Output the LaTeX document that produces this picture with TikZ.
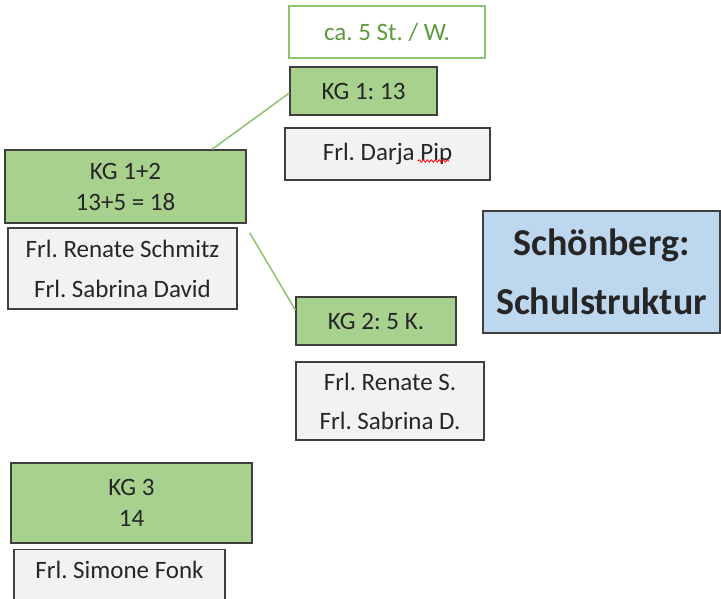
\documentclass[tikz,border=0pt]{standalone}
\usepackage{fontspec}
\setmainfont{Carlito}
\usetikzlibrary{decorations.pathmorphing}
\frenchspacing

\definecolor{kggreen}{HTML}{A9D18E}
\definecolor{kgline}{HTML}{8DC26F}
\definecolor{kgtext}{HTML}{5E9A3D}
\definecolor{lehrgray}{HTML}{F2F2F2}
\definecolor{titleblue}{HTML}{BDD7EE}
\definecolor{boxedge}{HTML}{3F3F3F}

\tikzset{
    kgbox/.style={draw=boxedge, line width=1.3pt, fill=kggreen, align=center, inner sep=0pt},
    lehrbox/.style={draw=boxedge, line width=1.3pt, fill=lehrgray, align=center, inner sep=0pt},
    notebox/.style={draw=kgline, line width=1.3pt, fill=white, text=kgtext, inner sep=0pt},
    titlebox/.style={draw=boxedge, line width=1.3pt, fill=titleblue, align=center, inner sep=0pt,
        font=\fontsize{38}{46}\selectfont\bfseries},
    link/.style={draw=kgline, line width=1.5pt}
}

\begin{document}
\begin{tikzpicture}[x=1pt, y=-1pt, font=\fontsize{25}{31}\selectfont, text=black!85]
    \useasboundingbox (0,0) rectangle (721,598);

    % top: hours and KG 1
    \draw (387,32) node[notebox, minimum width=196pt, minimum height=52pt] (hours) {ca. 5 St. / W.};
    \draw (363.5,91) node[kgbox, minimum width=147pt, minimum height=48pt] (kg1) {KG 1: 13};
    \draw (387.5,154) node[lehrbox, minimum width=205pt, minimum height=52pt] (darja) {Frl. Darja Pip};
    \draw[red, line width=0.8pt, decorate, decoration={snake, amplitude=1.2pt, segment length=4pt}]
        (418,161) -- (449,161);

    % left: KG 1+2
    \draw (125.5,186.5) node[kgbox, minimum width=241pt, minimum height=73pt] (kg12) {KG 1+2\\13+5 = 18};
    \draw (122.5,268.5) node[lehrbox, minimum width=229pt, minimum height=81pt] (lehr12)
        {Frl. Renate Schmitz\\[9pt]Frl. Sabrina David};

    % middle: KG 2
    \draw (376,321) node[kgbox, minimum width=160pt, minimum height=48pt] (kg2) {KG 2: 5 K.};
    \draw (390,401) node[lehrbox, minimum width=188pt, minimum height=78pt] (lehr2)
        {Frl. Renate S.\\[8pt]Frl. Sabrina D.};

    % title
    \draw (601.5,272) node[titlebox, minimum width=237pt, minimum height=122pt] (title)
        {Schönberg:\\[13pt]Schulstruktur};

    % bottom: KG 3
    \draw (131.5,503) node[kgbox, minimum width=241pt, minimum height=80pt] (kg3) {KG 3\\14};
    \draw (119.5,549) node[lehrbox, anchor=north, minimum width=211pt, text height=29pt, text depth=50pt] (simone)
        {Frl. Simone Fonk};

    % links
    \draw[link] ([xshift=86.5pt]kg12.north) -- ([yshift=-2pt]kg1.west);
    \draw[link] ([xshift=3pt, yshift=-9pt]kg12.south east) -- ([yshift=11pt]kg2.west);
\end{tikzpicture}
\end{document}
